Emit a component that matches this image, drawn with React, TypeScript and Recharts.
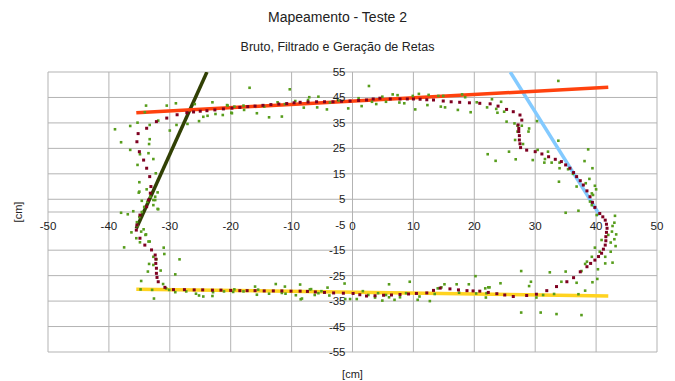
import { ScatterChart, Scatter, XAxis, YAxis, CartesianGrid, ReferenceLine } from "recharts";

const W = 675;
const H = 381;
const MARGIN = { top: 72, right: 18, bottom: 0, left: 0 };
const X_AXIS_H = 29;
const Y_AXIS_W = 48;
const PLOT_W = W - Y_AXIS_W - MARGIN.right;
const PLOT_H = H - MARGIN.top - X_AXIS_H;

const xDomain: [number, number] = [-50, 50];
const yDomain: [number, number] = [-55, 55];
const xTicks = [-50, -40, -30, -20, -10, 0, 10, 20, 30, 40, 50];
const yTicks = [55, 45, 35, 25, 15, 5, -5, -15, -25, -35, -45, -55];
const gridY = [55, 45, 35, 25, 15, 5, 0, -15, -25, -35, -45, -55];

// dados brutos (sensor)
const rawPts: [number, number][] = [
  [-33.9, 41.8], [-30.5, 41.8], [-29, 42.7], [-25.9, 42.4], [-23, 43.1], [-20.6, 42], [-19.4, 41.4],
  [-34.1, 39.2], [-35.3, 35.1], [-36.5, 33.8], [-39, 32.5], [-38, 27.4], [-36.5, 24.4], [-33.3, 28.6],
  [-33.4, 26.7], [-33.5, 23.1], [-32.7, 20.8], [-34.9, 22.7], [-35.3, 18.5], [-32.3, 15.2], [-35, 11.7],
  [-33.8, 8.9], [-35.1, 7.6], [-32, 7.7], [-34.6, 4.4], [-32.4, 6], [-32.7, 2.7], [-32, 1.2],
  [-28.9, 34.2], [-30, 32], [-27.1, 34.6], [-25.2, 35.7], [-24.5, 37.4], [-23.8, 37.8], [-22.5, 38.5],
  [-21.3, 38.1], [-19.9, 39], [-31.9, 35.9], [-33.3, 34.2], [-32.7, 4.7],
  [-16.9, 48.8], [-10.3, 48.2], [-20.5, 41.8], [-19.8, 38.8], [-17.9, 41.8], [-17.8, 40.1], [-15.7, 38.8],
  [-14.5, 41.4], [-13.7, 37.2], [-12.3, 43.1], [-11.6, 37.5], [-11.1, 42.4], [-9.4, 43.6], [-7.3, 44],
  [-8, 41], [-4.2, 40.3], [-7.1, 45.1], [-5.6, 45.3], [-5.8, 41.1], [-3.7, 43], [-2.3, 43.8], [-0.7, 40.7],
  [1, 44.7], [1.5, 41.6], [2.7, 49.5], [3.2, 43.3], [3.9, 42.4], [4.9, 45.3], [5.5, 43.3], [6.6, 46.2],
  [7.4, 45.9], [7.7, 43], [8.5, 42.7], [9.9, 45.6], [10.3, 40.3], [10.9, 46.4], [12.3, 42], [12.5, 46],
  [14.1, 45.6], [14.5, 41.4], [14.9, 45.6], [15.2, 41.1], [17.3, 40.1], [18, 46.2], [18.5, 45.1],
  [19.4, 39.2], [20.4, 43.1], [22.2, 22.7], [23.5, 20.1], [22.9, 44.3], [23.6, 40.5], [23.8, 39],
  [24.4, 43.3], [22.1, 41.1], [24.9, 39.4], [25.3, 35.5], [26.6, 34.8], [27.1, 33.9], [27.8, 33.9],
  [29, 32.8], [28.9, 31.6], [30.3, 35.7], [33.8, 51.5], [27.1, 31.6], [26.7, 28.3], [28, 26.7], [33.8, 28],
  [25.7, 23.7], [26.8, 20.7], [29.6, 20.4], [30.4, 24.4], [32.1, 23.7], [31.6, 20.8], [31.5, 19.4],
  [32.7, 19.4], [34, 19.4], [34, 17.2], [35.4, 16.8], [36.2, 15], [33.9, 11.9], [36.8, 10], [38.1, 20],
  [38.7, 24.6], [39.4, 17.2], [38.9, 13], [38.3, 11.3], [39.8, 10.3], [40, 8.9], [39.3, 7.3], [39.5, 6.7],
  [39, 4.1], [39.3, 2.7],
  [35, -0.3], [37.1, 0.5], [40.1, -1.2], [43.1, -1.5], [43, -4.2], [42.7, -5.5], [43.3, -8.8], [42.6, -7.7],
  [42, -9], [40.9, -11], [43, -10.7], [42.4, -12], [43.2, -13.4], [39.8, -14], [40.6, -15.6], [42.4, -15.6],
  [41.5, -17.6], [39.3, -17.6], [42.7, -19.9], [41.5, -20.2], [38.5, -19.5], [38.2, -20.4], [37.6, -23.2],
  [40.3, -22.5], [35, -23.4], [32.4, -23.7], [27.7, -23.2], [29.3, -27.4], [29, -29.1], [34.3, -27.4],
  [36.8, -27.8], [39.4, -27.6], [40.2, -26.3], [38.2, -30.9], [37.1, -32.3], [33.1, -32.2], [31.3, -32.6],
  [30.2, -33.6], [27.7, -39.5], [30.9, -39.5], [33.5, -40.1], [37.6, -40.5], [24.3, -28], [22.3, -29.6],
  [21.8, -30], [21.9, -33.6],
  [-8.5, -34.3], [-7, -30.4], [-6.2, -32.6], [-5.6, -31.9], [-5.1, -31.1], [-4.1, -29.7], [-3.8, -32.8],
  [-1.3, -28.1], [-1.2, -34.2], [-0.4, -34.2], [0.7, -34.2], [1.7, -31.1], [2.6, -32.6], [3.7, -33.6],
  [4.2, -31.9], [4.9, -34.8], [5.5, -32.6], [6, -28.4], [6, -33.5], [6.9, -34.5], [7.8, -33.5], [8.8, -31.9],
  [9.4, -27.4], [10.7, -34.5], [11, -33.2], [12.7, -35], [13.5, -32.2], [14, -30], [14.6, -29.6],
  [15.1, -28.4], [17.1, -28.4], [17.5, -31.7], [19.1, -28.4], [20.2, -25.2], [20.3, -32], [22.5, -29.6],
  [22, -31.9],
  [-19.6, -31.4], [-17.9, -31.2], [-16, -29.3], [-15.7, -32.5], [-15.5, -30.5], [-13.7, -32.1],
  [-12.6, -28.3], [-11.6, -31.8], [-11.1, -29.3], [-11, -32.1], [-9.3, -32.7], [-8.6, -28.5], [-8.3, -34],
  [-6.8, -30.3],
  [-38, -0.3], [-36.9, -0.9], [-32.4, 4.7], [-31.9, 1.1], [-36.3, -8], [-35.3, -5.5], [-34.3, -6.8],
  [-33.9, -8.8], [-35.5, -10.3], [-34.9, -11.9], [-33.3, -11.6], [-37.5, -13.9], [-31, -14], [-30.9, -16.5],
  [-32.7, -17.6], [-32.2, -18.6], [-28.4, -18.6], [-33.4, -20.4], [-32.7, -20.8], [-31.5, -23],
  [-33.6, -23.4], [-29.1, -24.5], [-34.7, -27.1], [-31.1, -28.3], [-34.8, -30.4], [-32.9, -30.6],
  [-32.6, -34], [-30.6, -30], [-30.1, -30.6], [-29.1, -31.5], [-27.3, -31.2], [-25.7, -32.1], [-25.2, -32.8],
  [-24.5, -33.2], [-22.9, -31.5], [-23, -33], [-21.1, -31.2], [-19.4, -30.4],
  [-35, 8], [-36, 0.3], [-34.7, -7.7], [-34, -9], [-33.5, -11.6], [-35.4, -4], [-35, -2], [-34.6, 0],
  [-34.2, 2], [-33.7, 4], [-33.2, 6],
];

// dados filtrados
const filteredPts: [number, number][] = [
  [-27.2, 39.0], [-26.1, 39.3], [-25.0, 39.6], [-23.9, 39.8], [-22.6, 40.1], [-21.2, 40.5], [-19.8, 40.8],
  [-18.5, 41.1], [-17.2, 41.4], [-16.0, 41.6], [-14.7, 41.9], [-13.4, 42.2], [-12.1, 42.4], [-10.8, 42.6],
  [-9.6, 42.9], [-8.6, 43.1], [-7.3, 43.2], [-5.9, 43.3], [-4.6, 43.3], [-3.2, 43.3], [-1.8, 43.5],
  [-0.4, 43.6], [1.0, 43.8], [2.3, 44.0], [3.4, 44.4], [4.5, 44.7], [6.2, 44.4], [7.8, 44.4], [9.0, 44.4],
  [10.0, 44.4], [11.1, 44.3], [12.2, 44.1], [13.3, 44.0], [14.9, 43.6], [16.2, 43.3], [17.6, 43.1],
  [19.2, 42.9], [20.9, 42.7], [22.6, 42.5], [23.9, 41.6], [25.3, 40.3], [26.4, 39.4], [27.5, 38.1],
  [27.8, 36.1], [27.2, 34.2], [27.3, 32.8], [27.3, 31.6], [27.4, 30.0], [27.4, 28.3], [27.5, 26.8],
  [27.6, 25.3], [28.6, 24.3], [30.0, 23.7], [31.1, 22.8], [32.2, 21.7], [33.3, 20.7], [34.3, 19.8],
  [35.0, 18.5], [35.7, 17.2], [36.3, 15.5], [36.8, 13.9], [37.4, 12.3], [37.9, 10.6], [38.5, 8.3],
  [39.0, 6.0], [39.4, 3.8], [39.8, 1.8], [40.6, -0.6], [41.1, -1.9], [41.5, -3.2], [41.7, -4.8],
  [41.8, -6.4], [41.7, -8.0], [41.6, -9.7], [41.6, -11.3], [41.5, -13.0], [41.2, -14.6], [40.9, -16.2],
  [40.4, -17.5], [39.8, -18.9], [39.1, -20.2], [38.5, -21.5], [37.4, -23.5], [36.3, -25.8], [35.2, -27.4],
  [33.5, -29.3], [31.9, -30.9], [30.2, -32.3], [28.6, -32.8], [26.4, -33.2], [25.0, -32.6], [23.7, -32.1],
  [22.3, -31.6], [20.9, -31.1], [19.8, -31.0], [18.8, -30.9], [17.4, -30.6], [16.0, -30.2], [14.4, -29.9],
  [13.3, -30.8], [12.2, -31.8], [10.5, -32.0], [9.2, -32.2], [7.8, -32.4], [6.4, -32.6], [5.1, -32.7],
  [3.7, -32.9], [2.3, -33.0], [1.2, -32.5], [0.1, -32.0], [-1.5, -31.9], [-3.1, -31.8], [-4.6, -31.6],
  [-6.1, -31.4], [-7.4, -31.2], [-8.6, -31.1], [-10.1, -31.1], [-11.6, -31.0], [-13.0, -31.0],
  [-14.5, -31.0], [-16.0, -30.9], [-17.3, -30.9], [-18.5, -30.9], [-20.0, -30.8], [-21.6, -30.7],
  [-23.0, -30.7], [-24.6, -30.6], [-26.0, -30.6], [-27.6, -30.5], [-29.4, -30.5], [-30.8, -29.6],
  [-31.9, -27.4], [-32.1, -25.7], [-32.2, -24.1], [-32.2, -22.1], [-32.3, -20.2], [-32.3, -18.5],
  [-32.4, -16.9], [-33.0, -14.9], [-34.1, -13.0], [-34.9, -10.3], [-35.5, -7.1], [-35.4, -5.1],
  [-34.9, -1.2], [-33.8, 2.1], [-33.5, 4.7], [-33.2, 7.4], [-33.1, 10.0], [-33.3, 13.9], [-33.8, 17.2],
  [-34.3, 20.4], [-35.0, 23.7], [-35.4, 27.6], [-35.2, 30.8], [-33.8, 32.9], [-32.2, 35.5], [-30.5, 36.9],
  [-28.8, 38.2],
];

// retas geradas
const retaTopo: [number, number][] = [[-35.5, 39], [42, 49]];
const retaEsquerda: [number, number][] = [[-35.5, -6.5], [-23.9, 55]];
const retaDireita: [number, number][] = [[25.9, 55], [40.6, -1.2]];
const retaBase: [number, number][] = [[-35.5, -30.3], [42, -33]];

const toXY = (pts: [number, number][]) => pts.map(([x, y]) => ({ x, y }));

const FONT = "'Liberation Sans Narrow', 'Liberation Sans', Arial, sans-serif";
const TXT = "#222";

// eixos cruzam na origem
const zeroY = MARGIN.top + (yDomain[1] / (yDomain[1] - yDomain[0])) * PLOT_H;
const zeroX = Y_AXIS_W + (-xDomain[0] / (xDomain[1] - xDomain[0])) * PLOT_W;

const renderXTick = (props: any) => (
  <text key={props.index} x={props.x} y={zeroY + 18} textAnchor="middle" fontSize={11.5} fill={TXT} fontFamily={FONT}>
    {props.payload.value}
  </text>
);

const renderYTick = (props: any) => (
  <text key={props.index} x={zeroX - 7} y={props.y} dy={4} textAnchor="end" fontSize={11.5} fill={TXT} fontFamily={FONT}>
    {props.payload.value}
  </text>
);

const RawDot = (p: any) => <rect x={p.cx - 1.3} y={p.cy - 1.3} width={2.6} height={2.6} fill="#579d1c" />;
const FiltDot = (p: any) => <rect x={p.cx - 1.5} y={p.cy - 1.5} width={3} height={3} fill="#7e0021" />;
const NoDot = () => <g />;

export default function App() {
  return (
    <div style={{ position: "absolute", left: 0, top: 0, width: W, height: H, background: "#fff" }}>
      <ScatterChart width={W} height={H} margin={MARGIN}>
        <CartesianGrid horizontal={false} stroke="#b3b3b3" />
        {gridY.map((v) => (
          <ReferenceLine key={v} y={v} stroke="#b3b3b3" />
        ))}
        <XAxis type="number" dataKey="x" domain={xDomain} ticks={xTicks} height={X_AXIS_H}
          axisLine={false} tickLine={false} tick={renderXTick} allowDataOverflow interval={0} />
        <YAxis type="number" dataKey="y" domain={yDomain} ticks={yTicks} width={Y_AXIS_W}
          axisLine={false} tickLine={false} tick={renderYTick} allowDataOverflow interval={0} />
        <Scatter data={toXY(retaDireita)} line={{ stroke: "#83caff", strokeWidth: 3.5 }} shape={NoDot} isAnimationActive={false} />
        <Scatter data={toXY(retaEsquerda)} line={{ stroke: "#314004", strokeWidth: 3.5 }} shape={NoDot} isAnimationActive={false} />
        <Scatter data={toXY(retaTopo)} line={{ stroke: "#ff420e", strokeWidth: 3.5 }} shape={NoDot} isAnimationActive={false} />
        <Scatter data={toXY(retaBase)} line={{ stroke: "#ffd320", strokeWidth: 3.5 }} shape={NoDot} isAnimationActive={false} />
        <Scatter data={toXY(rawPts)} shape={RawDot} isAnimationActive={false} />
        <Scatter data={toXY(filteredPts)} shape={FiltDot} isAnimationActive={false} />
        <text x={W / 2} y={22} textAnchor="middle" fontSize={14} fill={TXT} fontFamily={FONT}>
          Mapeamento - Teste 2
        </text>
        <text x={W / 2} y={51} textAnchor="middle" fontSize={12.5} fill={TXT} fontFamily={FONT}>
          Bruto, Filtrado e Geração de Retas
        </text>
        <text x={zeroX} y={378} textAnchor="middle" fontSize={11} fill={TXT} fontFamily={FONT}>
          [cm]
        </text>
        <text x={22} y={zeroY} textAnchor="middle" fontSize={11} fill={TXT} fontFamily={FONT}
          transform={`rotate(-90 22 ${zeroY})`}>
          [cm]
        </text>
      </ScatterChart>
    </div>
  );
}
